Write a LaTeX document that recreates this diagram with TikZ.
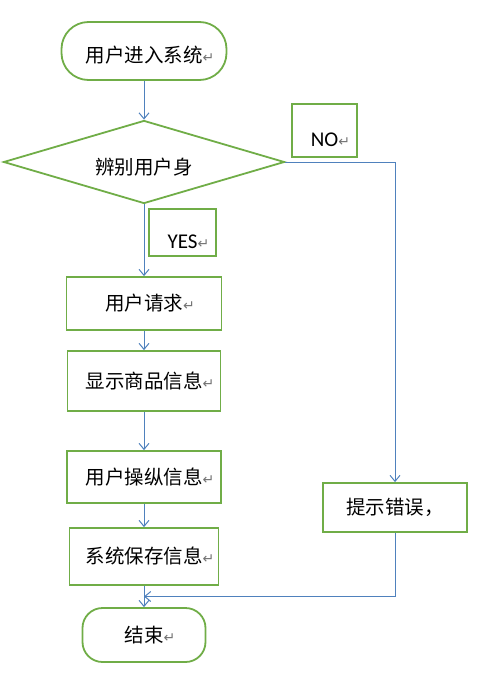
\documentclass[tikz,border=0pt]{standalone}
\usepackage{fontspec}
\setmainfont{Carlito}
\newfontfamily\cjk{Noto Sans CJK SC}
\newfontfamily\symfont{DejaVu Sans}
\usepackage{tikz}
\usepackage{xcolor}
\usetikzlibrary{arrows.meta,shapes.geometric,calc}
\definecolor{boxgreen}{RGB}{112,173,71}
\definecolor{lineblue}{RGB}{79,129,189}
\newcommand{\retmark}{{\symfont\fontsize{14bp}{14bp}\selectfont\color{black!55}↵}}

\begin{document}
\begin{tikzpicture}[x=1bp,y=-1bp,
    box/.style={draw=boxgreen, line width=1.8bp, inner sep=0pt,
        font=\cjk\fontsize{19.5bp}{22bp}\selectfont},
    padtext/.style={execute at begin node=\hspace*{12bp}},
    lowtext/.style={text height=#1, text depth=0pt},
    terminal/.style={box, padtext, minimum height=#1},
    tag/.style={draw=boxgreen, line width=1.8bp, inner sep=0pt, padtext,
        font=\fontsize{21bp}{24bp}\selectfont, lowtext=31bp},
    flow/.style={draw=lineblue, line width=1bp, -{Straight Barb[length=6bp,width=10bp]}}]
    \useasboundingbox (0,0) rectangle (480,677);

    % Main column
    \node[terminal=58bp, rounded corners=27bp, minimum width=165bp, lowtext=24bp] (start) at (144,51) {用户进入系统\retmark};
    \node[box, diamond, aspect=3.4, minimum width=281bp, minimum height=83bp, lowtext=24bp] (ident) at (144,162) {辨别用户身};
    \node[box, padtext, minimum width=155bp, minimum height=53bp] (req) at (144,303.5) {用户请求\retmark};
    \node[box, padtext, minimum width=153bp, minimum height=60bp] (show) at (144,381) {显示商品信息\retmark};
    \node[box, padtext, minimum width=154bp, minimum height=52bp] (oper) at (144,477) {用户操纵信息\retmark};
    \node[box, padtext, minimum width=149bp, minimum height=57bp] (save) at (144,556.5) {系统保存信息\retmark};
    \node[terminal=54bp, rounded corners=20bp, minimum width=123bp] (stop) at (144,635) {结束\retmark};

    % Error branch
    \node[box, minimum width=144bp, minimum height=49bp] (err) at (395,507.5) {提示错误，};

    % Branch tags
    \node[tag, minimum width=65bp, minimum height=53bp] (no) at (324.5,130.5) {NO\retmark};
    \node[tag, minimum width=67bp, minimum height=47bp] (yes) at (182.5,232.5) {YES\retmark};

    % Connectors
    \draw[flow] (start) -- (ident);
    \draw[flow] (ident) -- (req);
    \draw[flow] (req) -- (show);
    \draw[flow] (show) -- (oper);
    \draw[flow] (oper) -- (save);
    \draw[flow] (save) -- (stop);
    \draw[flow] (ident.east) -| (err.north);
    \coordinate (join) at ($(save.south)!.5!(stop.north)$);
    \draw[flow] (err.south) |- (join);
\end{tikzpicture}
\end{document}
